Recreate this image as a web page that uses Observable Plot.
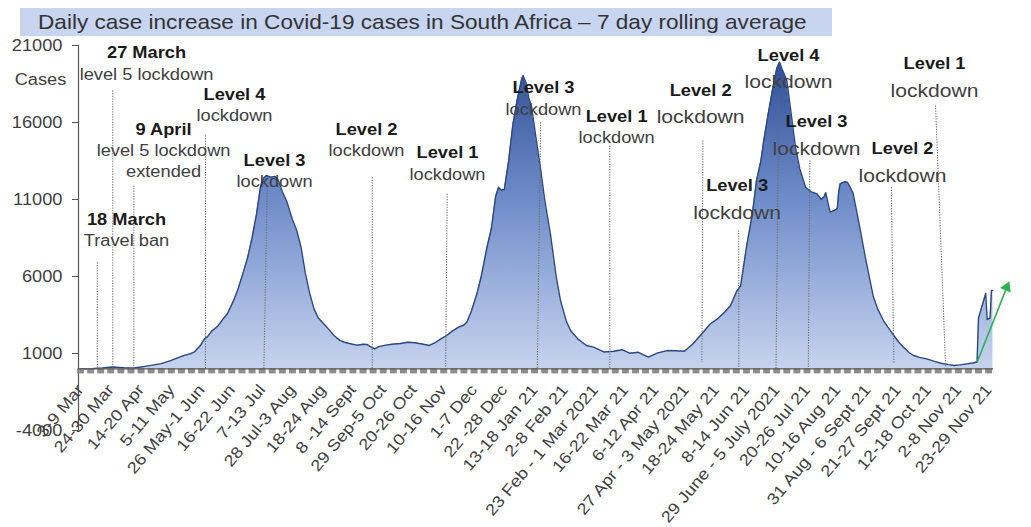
<!DOCTYPE html>
<html>
<head>
<meta charset="utf-8">
<script src="https://cdn.jsdelivr.net/npm/d3@7"></script>
<script src="https://cdn.jsdelivr.net/npm/@observablehq/plot@0.6"></script>
<style>
  body { margin: 0; background: #fff; font-family: "Liberation Sans", Arial, sans-serif; }
  #wrap { position: relative; width: 1031px; height: 527px; overflow: hidden; }
  #chart { position: absolute; left: 0; top: 0; }
  #title { position: absolute; left: 20px; top: 8px; width: 812px; height: 28px; background: #c7d5f0; }
  #title span { position: absolute; left: 18px; top: 0; line-height: 28px; font-size: 21px; color: #333;
                white-space: nowrap; transform-origin: left center; }
</style>
</head>
<body>
<div id="wrap">
  <div id="chart"></div>
  <div id="title"><span>Daily case increase in Covid-19 cases in South Africa – 7 day rolling average</span></div>
</div>
<script>
// ---- x-axis week labels (every third week, starting 3-9 Mar 2020) ----
const weekLabels = ["3-9 Mar", "24-30 Mar", "14-20 Apr", "5-11 May", "26 May-1 Jun", "16-22 Jun", "7-13 Jul",
  "28 Jul-3 Aug", "18-24 Aug", "8 -14 Sept", "29 Sep-5 Oct", "20-26 Oct", "10-16 Nov", "1-7 Dec", "22 -28 Dec",
  "13-18 Jan 21", "2-8 Feb 21", "23 Feb - 1 Mar 2021", "16-22 Mar 21", "6-12 Apr 21", "27 Apr - 3 May 2021",
  "18-24 May 21", "8-14 Jun 21", "29 June - 5 July 2021", "20-26 Jul 21", "10-16 Aug 21", "31 Aug - 6 Sept 21",
  "21-27 Sept 21", "12-18 Oct 21", "2-8 Nov 21", "23-29 Nov 21"];

// ---- y ticks ----
const yTicks = [21000, 16000, 11000, 6000, 1000, -4000];

// ---- 7-day rolling average, days counted from 3 March 2020 ----
const days = [0, 8, 15, 22, 30, 37, 42, 46, 51, 56, 62, 67, 72, 76, 79, 83, 86, 88, 91, 95, 99, 102, 106, 109, 113,
  116, 119, 122, 125, 127, 129, 132, 135, 137, 140, 143, 147, 150, 153, 156, 159, 162, 165, 169, 172, 176, 180, 183,
  188, 192, 196, 199, 202, 204, 207, 211, 216, 222, 227, 232, 237, 242, 246, 250, 254, 258, 262, 266, 268, 271, 275,
  278, 282, 285, 288, 290, 292, 294, 297, 300, 303, 306, 307, 309, 311, 313, 316, 319, 322, 326, 330, 333, 337, 340,
  345, 351, 356, 363, 370, 376, 381, 387, 391, 394, 400, 407, 413, 419, 425, 432, 437, 442, 447, 451, 455, 458, 462,
  466, 469, 472, 474, 477, 480, 483, 485, 487, 490, 493, 496, 499, 503, 507, 511, 514, 516, 517, 519, 520, 523, 525,
  526, 527, 530, 532, 534, 536, 540, 545, 550, 553, 557, 561, 564, 568, 571, 575, 578, 582, 587, 592, 597, 602, 606,
  610, 615, 619, 622, 623, 628, 629, 631, 632, 633];
const cases = [0, 20, 60, 120, 80, 60, 120, 180, 260, 340, 520, 700, 880, 980, 1100, 1500, 1950, 2080, 2450, 2750,
  3250, 3600, 4400, 5100, 6300, 7250, 8500, 10000, 11900, 12400, 12560, 12450, 12500, 12300, 11500, 10900, 9700, 9000,
  7900, 6200, 4900, 3900, 3300, 2900, 2600, 2150, 1850, 1730, 1620, 1540, 1600, 1580, 1400, 1300, 1450, 1530, 1600,
  1650, 1730, 1700, 1620, 1520, 1700, 1950, 2170, 2450, 2700, 2850, 3030, 3700, 4880, 6000, 7900, 9100, 11200, 11800,
  11600, 11650, 13500, 15900, 17500, 18800, 19050, 18600, 17600, 16990, 15000, 13100, 11000, 8770, 6000, 4440, 3100,
  2490, 1950, 1520, 1410, 1100, 1150, 1240, 1020, 1080, 900, 760, 1020, 1190, 1180, 1150, 1630, 2380, 2930, 3250,
  3700, 4120, 5000, 5400, 7900, 10000, 12230, 13500, 14830, 16500, 18080, 19500, 19920, 19400, 18730, 16600, 14400,
  13000, 11800, 11500, 11370, 11000, 11200, 11450, 10600, 10180, 10300, 10400, 11500, 12020, 12150, 12120, 11800,
  11400, 9500, 7000, 4700, 3900, 3140, 2600, 2200, 1700, 1410, 1050, 870, 750, 650, 500, 370, 280, 220, 260, 330,
  380, 450, 3300, 4900, 3200, 3300, 5100, 5100];

// ---- lockdown marker lines (day at top, day at bottom, top value, bottom value) ----
const ruleDayTop    = [11.6, 22.4, 37, 86.7, 129.5, 202.4, 254.4, 319.2, 367.2, 431.8, 456.7, 484.5, 506, 562.5, 593.2];
const ruleDayBottom = [11.6, 22.4, 37, 86.7, 127.2, 202.4, 253.3, 316.9, 367.2, 431.1, 456.7, 482.5, 504.9, 564.3, 600.2];
const ruleTop       = [6920, 18080, 11910, 15160, 11590, 12450, 11370, 16020, 14500, 14830, 8990, 17860, 13540, 11800, 17110];
const ruleBottom    = [0, 0, 0, 0, 0, 0, 0, 0, 0, 435, 0, 0, 0, 350, 100];

// ---- annotations ----
const annDay   = [45.8, 106.8, 57.6, 134.6, 31.9, 198.4, 254.6, 321.2, 371.9, 430.2, 455.5, 491.2, 510.6, 570.3, 592.5];
const annValue = [20500, 17818, 15526, 13532, 9682, 15526, 14006, 18227, 16390, 18078, 11864, 20351, 16019, 14292, 19812];
const annBold  = ["27 March", "Level 4", "9 April", "Level 3", "18 March", "Level 2", "Level 1", "Level 3", "Level 1",
  "Level 2", "Level 3", "Level 4", "Level 3", "Level 2", "Level 1"];
const annText  = ["level 5 lockdown", "lockdown", "level 5 lockdown|extended", "lockdown", "Travel ban", "lockdown",
  "lockdown", "lockdown", "lockdown", "lockdown", "lockdown", "lockdown", "lockdown", "lockdown", "lockdown"];
const annLarge = [false, false, false, false, false, false, false, false, false, true, true, true, true, true, true];

// ---- growth arrow ----
const arrowFrom = {day: 622, cases: 430};
const arrowTo   = {day: 642, cases: 5150};
const arrowTip  = {day: 642.6, cases: 5300};

// build tables
const series = days.map((d, i) => ({day: d, cases: cases[i]}));
const rules = ruleTop.map((t, i) => ({d1: ruleDayTop[i], d2: ruleDayBottom[i], top: t, bottom: ruleBottom[i]}));
const annRows = annBold.map((b, i) => ({day: annDay[i], value: annValue[i], bold: b, large: annLarge[i]}));
const normRows = [];
annText.forEach((t, i) => t.split("|").forEach((line, k) => normRows.push({day: annDay[i], value: annValue[i], text: line, k, large: annLarge[i]})));
const labelDays = weekLabels.map((_, i) => i * 21);
const labelMap = new Map(labelDays.map((d, i) => [d, weekLabels[i]]));
const weekDays = d3.range(0, 634, 7);
const xDomain = [-1.4, 633.4];

const gradient = () => {
  const ns = "http://www.w3.org/2000/svg";
  const defs = document.createElementNS(ns, "defs");
  const g = document.createElementNS(ns, "linearGradient");
  g.setAttribute("id", "caseGrad");
  g.setAttribute("gradientUnits", "userSpaceOnUse");
  g.setAttribute("x1", 0); g.setAttribute("x2", 0);
  g.setAttribute("y1", 60); g.setAttribute("y2", 368);
  [["0%", "#2f4f96"], ["45%", "#6f8cc9"], ["100%", "#c6d3ee"]].forEach(([o, c]) => {
    const s = document.createElementNS(ns, "stop");
    s.setAttribute("offset", o); s.setAttribute("stop-color", c);
    g.appendChild(s);
  });
  defs.appendChild(g);
  return defs;
};

const chart = Plot.plot({
  width: 1031,
  height: 527,
  marginLeft: 78,
  marginRight: 38,
  marginTop: 45,
  marginBottom: 97,
  x: {domain: xDomain, label: null},
  y: {domain: [-4000, 21000], label: null},
  style: {fontFamily: "'Liberation Sans', Arial, sans-serif", fontSize: "16px", color: "#404040", background: "white", overflow: "visible"},
  marks: [
    gradient,
    Plot.areaY(series, {x: "day", y: "cases", fill: "url(#caseGrad)"}),
    Plot.lineY(series, {x: "day", y: "cases", stroke: "#2c4884", strokeWidth: 1.4}),
    Plot.link(rules, {x1: "d1", y1: "top", x2: "d2", y2: "bottom", stroke: "#6a6a6a", strokeWidth: 1, strokeDasharray: "1.3,1.3"}),
    Plot.ruleX([xDomain[0]], {stroke: "#555", strokeWidth: 1.2}),
    Plot.axisY({ticks: yTicks, tickSize: 6, tickPadding: 10, fontSize: 16, stroke: "#555", tickFormat: d => String(d)}),
    Plot.axisX({ticks: weekDays, tickSize: 5, tickFormat: () => "", dy: -61.6, stroke: "#8e8e8e", strokeWidth: 7}),
    Plot.ruleY([0], {stroke: "#555", strokeWidth: 1.2}),
    Plot.axisX({ticks: labelDays, tickSize: 0, tickPadding: 18, tickRotate: -50, tickFormat: d => labelMap.get(d), dy: -61.6, fontSize: 16}),
    Plot.text(["Cases"], {frameAnchor: "top-left", dx: -38, dy: 28, textAnchor: "middle", fontSize: 16, fill: "#404040"}),
    Plot.text(annRows, {x: "day", y: "value", text: "bold", fontWeight: "bold", fontSize: 16, fill: "#1a1a1a"}),
    Plot.text(normRows.filter(r => !r.large && r.k === 0), {x: "day", y: "value", text: "text", dy: 21.3, fontSize: 16, fill: "#404040"}),
    Plot.text(normRows.filter(r => !r.large && r.k === 1), {x: "day", y: "value", text: "text", dy: 42.4, fontSize: 16, fill: "#404040"}),
    Plot.text(normRows.filter(r => r.large), {x: "day", y: "value", text: "text", dy: 27, fontSize: 18.5, fill: "#404040"}),
    Plot.link([0], {x1: () => arrowFrom.day, y1: () => arrowFrom.cases, x2: () => arrowTo.day, y2: () => arrowTo.cases, stroke: "#2fb350", strokeWidth: 1.6}),
    Plot.dot([arrowTip], {x: "day", y: "cases", symbol: "triangle2", r: 5.5, fill: "#2fb350", rotate: 23})
  ]
});
document.getElementById("chart").appendChild(chart);

// the reference's lettering is horizontally stretched; stretch each text element the same way
chart.querySelectorAll("text").forEach(t => {
  const L = t.getComputedTextLength();
  if (L > 0) {
    t.setAttribute("textLength", (L * 1.14).toFixed(1));
    t.setAttribute("lengthAdjust", "spacingAndGlyphs");
  }
});
// fit the title text to the banner width of the reference
const span = document.querySelector("#title span");
const w = span.getBoundingClientRect().width;
span.style.transform = `scaleX(${(769 / w).toFixed(3)})`;
</script>
</body>
</html>
